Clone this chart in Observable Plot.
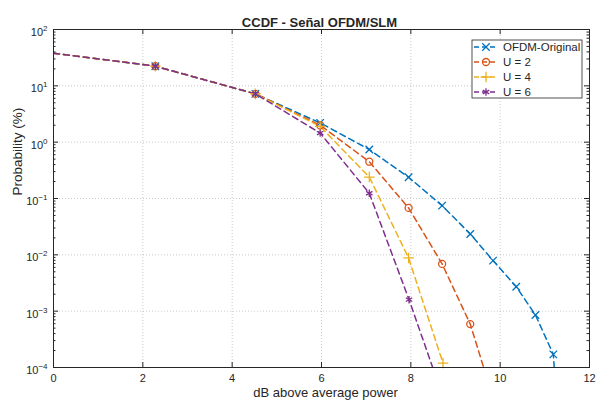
<!DOCTYPE html>
<html><head><meta charset="utf-8">
<script src="https://cdn.jsdelivr.net/npm/d3@7"></script>
<script src="https://cdn.jsdelivr.net/npm/@observablehq/plot@0.6"></script>
<style>
body{margin:0;background:#fff;font-family:"Liberation Sans",Arial,sans-serif;}
#wrap{position:relative;width:597px;height:404px;}
</style></head><body><div id="wrap"></div>
<script>
const chartTitle = "CCDF - Señal OFDM/SLM";
const xLabel = "dB above average power";
const yLabel = "Probability (%)";
const seriesNames = ["OFDM-Original", "U = 2", "U = 4", "U = 6"];
const seriesColors = ["#0072BD", "#D95319", "#EDB120", "#7E2F8E"];
const seriesSymbols = ["times", "circle", "plus", "asterisk"];
const xTicks = [0, 2, 4, 6, 8, 10, 12];
const yTicks = [1e-4, 1e-3, 1e-2, 1e-1, 1, 10, 100];

const ofdmX = [0, 2.28, 4.52, 5.97, 7.07, 7.95, 8.70, 9.33, 9.84, 10.36, 10.79, 11.19, 11.21];
const ofdmY = [38, 22.3, 7.2, 2.2, 0.74, 0.238, 0.0748, 0.0235, 0.0079, 0.00272, 0.000855, 0.000171, 0.0001];
const u2X = [0, 2.28, 4.52, 5.97, 7.07, 7.95, 8.70, 9.33, 9.63];
const u2Y = [38, 22.3, 7.2, 2.0, 0.45, 0.068, 0.0069, 0.00059, 0.0001];
const u4X = [0, 2.28, 4.52, 5.97, 7.07, 7.95, 8.72];
const u4Y = [38, 22.3, 7.2, 1.9, 0.24, 0.0088, 0.00012];
const u6X = [0, 2.28, 4.52, 5.97, 7.07, 7.96, 8.49];
const u6Y = [38, 22.3, 7.2, 1.45, 0.124, 0.0016, 0.0001];

const seriesX = [ofdmX, u2X, u4X, u6X];
const seriesY = [ofdmY, u2Y, u4Y, u6Y];
const rows = [];
seriesNames.forEach((name, s) => {
  seriesX[s].forEach((x, i) => rows.push({series: name, x, y: seriesY[s][i]}));
});
const markerRows = rows.filter(d => d.x > 0 && d.y > 1.05e-4);

const minorY = [];
[1e-4, 1e-3, 1e-2, 1e-1, 1, 10].forEach(d => { for (let k = 2; k <= 9; k++) minorY.push(d * k); });

const W = 597, H = 404, mL = 53, mR = 8, mT = 29, mB = 37;
const pw = W - mL - mR, ph = H - mT - mB;
const axisColor = "#262626";
const font = "'Liberation Sans', Arial, sans-serif";

const plot = Plot.plot({
  width: W, height: H,
  marginLeft: mL, marginRight: mR, marginTop: mT, marginBottom: mB,
  style: {fontFamily: font, fontSize: "11px", background: "#fff", color: axisColor},
  x: {domain: [0, 12], label: null},
  y: {type: "log", domain: [1e-4, 1e2], label: null},
  color: {domain: seriesNames, range: seriesColors},
  symbol: {domain: seriesNames, range: seriesSymbols},
  marks: [
    Plot.gridX(xTicks, {stroke: "#8a8a8a", strokeOpacity: 0.45, strokeDasharray: "1,2"}),
    Plot.gridY(yTicks, {stroke: "#8a8a8a", strokeOpacity: 0.45, strokeDasharray: "1,2"}),
    Plot.line(rows, {x: "x", y: "y", z: "series", stroke: "series", strokeWidth: 1.5, strokeDasharray: "6,4", clip: true}),
    Plot.dot(markerRows, {x: "x", y: "y", stroke: "series", symbol: "series", fill: "none", r: 3.5, strokeWidth: 1.3}),
    Plot.frame({stroke: axisColor, strokeWidth: 1}),
    Plot.ruleX(xTicks, {x: d => d, insetTop: ph - 5, stroke: axisColor}),
    Plot.ruleX(xTicks, {x: d => d, insetBottom: ph - 5, stroke: axisColor}),
    Plot.ruleY(yTicks, {y: d => d, insetRight: pw - 5, stroke: axisColor}),
    Plot.ruleY(yTicks, {y: d => d, insetLeft: pw - 5, stroke: axisColor}),
    Plot.ruleY(minorY, {y: d => d, insetRight: pw - 2.5, stroke: axisColor}),
    Plot.ruleY(minorY, {y: d => d, insetLeft: pw - 2.5, stroke: axisColor}),
    Plot.axisX(xTicks, {anchor: "bottom", tickSize: 0, tickPadding: 7, fontSize: 11}),
    Plot.axisY(yTicks, {anchor: "left", tickSize: 0, tickPadding: 6, fontSize: 11,
      tickFormat: d => String(Math.round(Math.log10(d)))}),
    Plot.text([chartTitle], {frameAnchor: "top", dy: -11.5, dx: -2, fontWeight: "bold", fontSize: 13}),
    Plot.text([xLabel], {frameAnchor: "bottom", dy: 29.5, dx: 4, fontSize: 13}),
    Plot.text([yLabel], {frameAnchor: "left", dx: -36, dy: -3, rotate: -90, fontSize: 13.5})
  ]
});
document.getElementById("wrap").appendChild(plot);

// superscript exponents on y tick labels
const svg = d3.select(plot);
svg.selectAll('g[aria-label="y-axis tick label"] text').each(function() {
  const t = d3.select(this);
  const e = t.text().replace("-", "\u2212");
  t.text("");
  t.append("tspan").attr("dy", 3).text("10");
  t.append("tspan").attr("dy", -5).attr("font-size", 8).text(e);
});

// legend
const symMap = {times: d3.symbolTimes, circle: d3.symbolCircle, plus: d3.symbolPlus, asterisk: d3.symbolAsterisk};
const lg = svg.append("g").attr("font-family", font).attr("font-size", 11.5).attr("text-anchor", "start");
const lx = 472, ly = 40, lw = 110, lh = 58, rowH = 15;
lg.append("rect").attr("x", lx).attr("y", ly).attr("width", lw).attr("height", lh)
  .attr("fill", "#fff").attr("stroke", axisColor).attr("stroke-width", 0.8);
seriesNames.forEach((name, i) => {
  const cy = ly + 7 + i * rowH;
  lg.append("line").attr("x1", lx + 2).attr("x2", lx + 26).attr("y1", cy).attr("y2", cy)
    .attr("stroke", seriesColors[i]).attr("stroke-width", 1.5).attr("stroke-dasharray", "5,3");
  lg.append("path").attr("transform", `translate(${lx + 14},${cy})`)
    .attr("d", d3.symbol(symMap[seriesSymbols[i]], Math.PI * 3.5 * 3.5)())
    .attr("fill", "none").attr("stroke", seriesColors[i]).attr("stroke-width", 1.3);
  lg.append("text").attr("x", lx + 31).attr("y", cy).attr("dy", "0.35em")
    .attr("text-anchor", "start").attr("fill", axisColor).text(name);
});
</script></body></html>
